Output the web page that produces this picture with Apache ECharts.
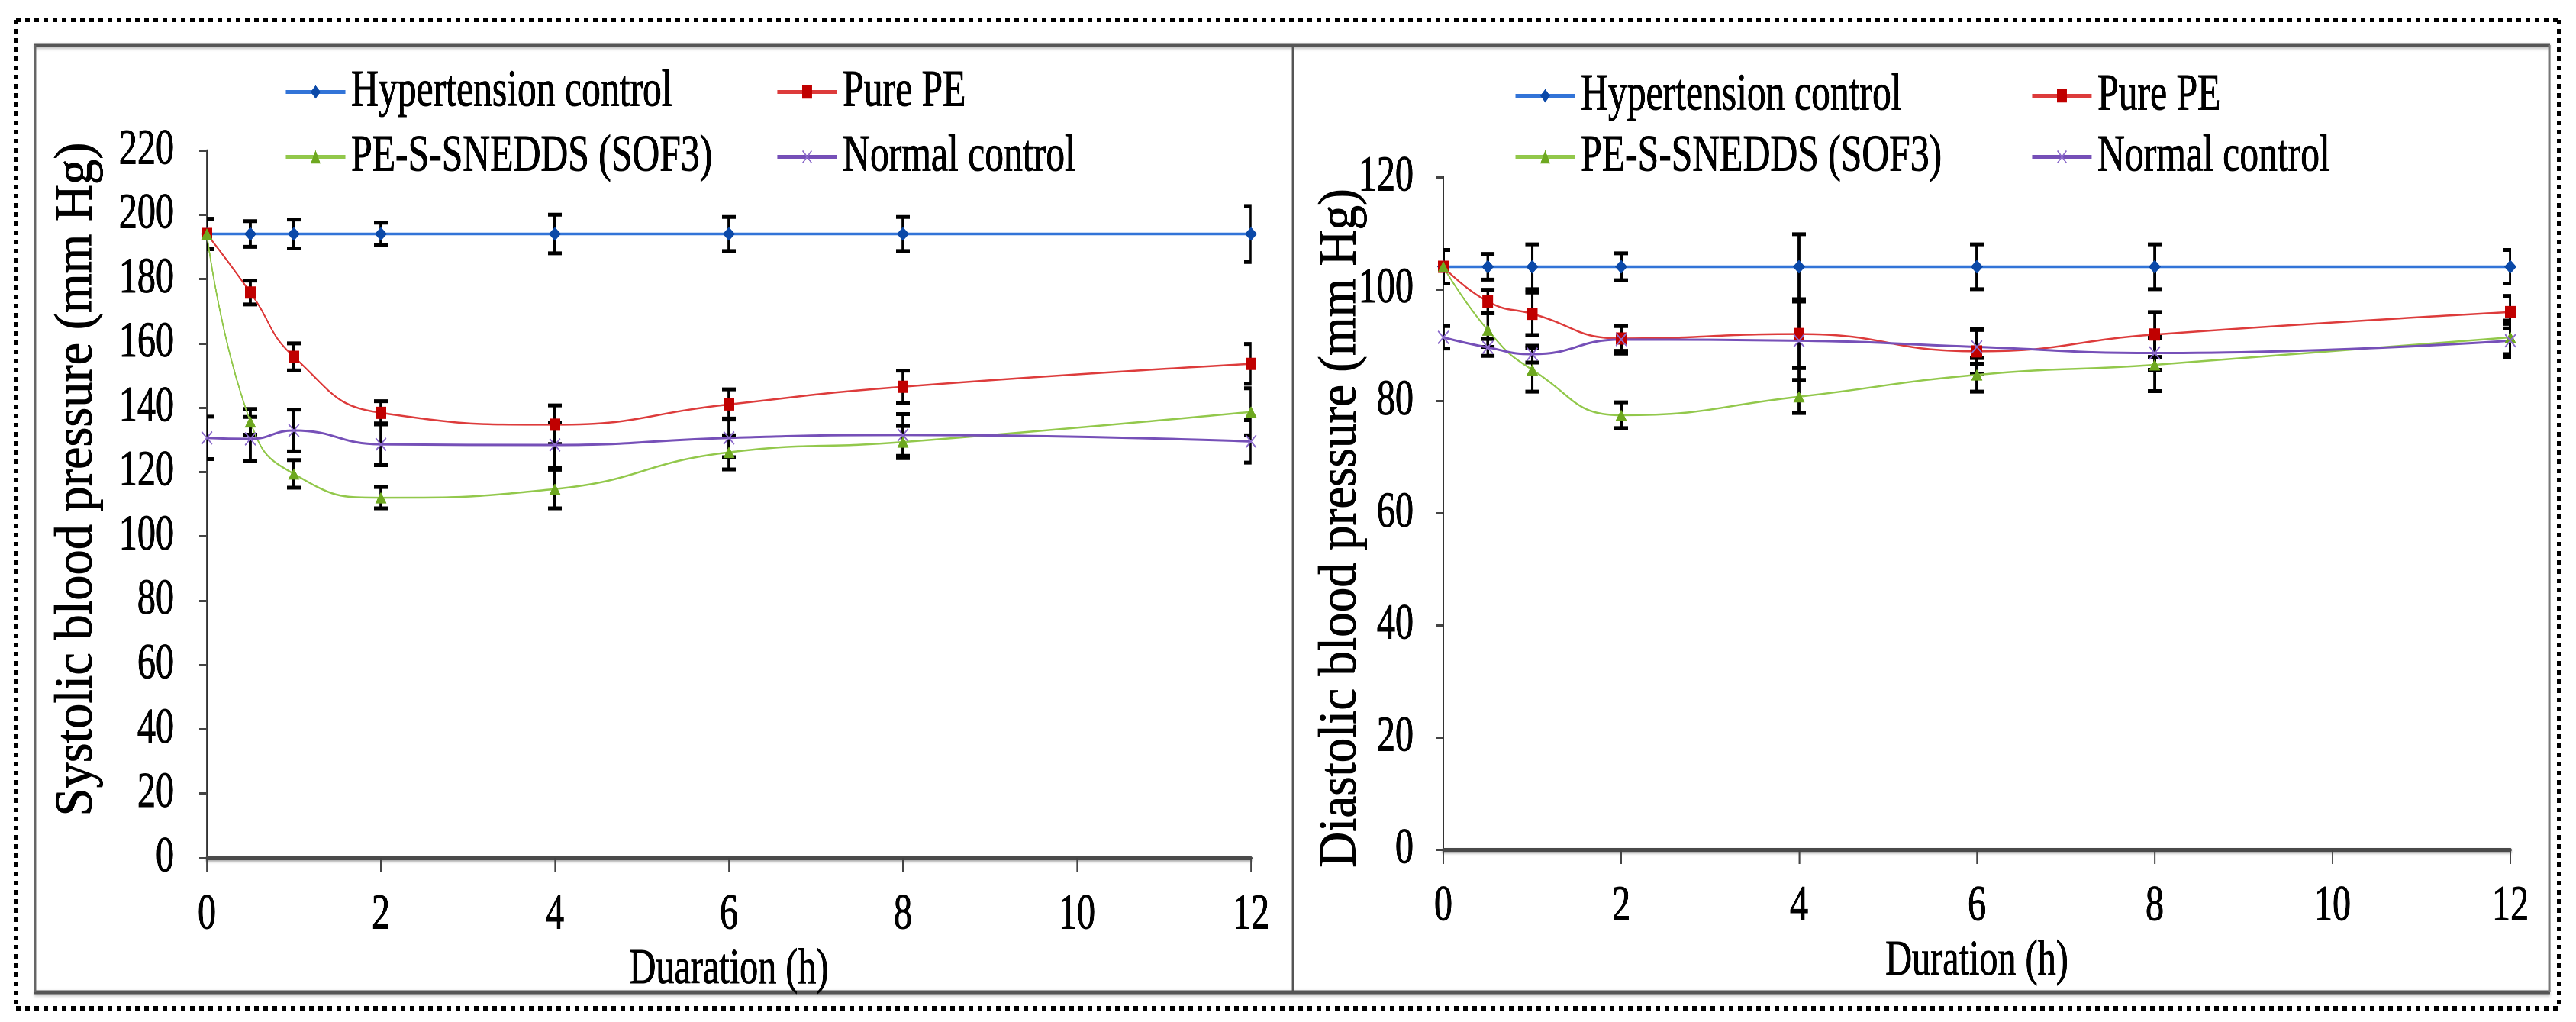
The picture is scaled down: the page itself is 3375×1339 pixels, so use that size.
<!DOCTYPE html>
<html>
<head>
<meta charset="utf-8">
<script src="https://cdn.jsdelivr.net/npm/echarts@6/dist/echarts.min.js"></script>
<style>
html, body { margin: 0; padding: 0; background: #fff; overflow: hidden; width: 3375px; height: 1339px; }
#chart { position: absolute; left: 0; top: 0; height: 1339px; transform-origin: 0 0; }
</style>
</head>
<body>
<div id="chart"></div>
<script>
// ---------------- data ----------------
const durations = [0, 0.5, 1, 2, 4, 6, 8, 12];
const seriesNames = ['Hypertension control', 'Pure PE', 'PE-S-SNEDDS (SOF3)', 'Normal control'];

// Systolic blood pressure (mm Hg)
const sysHypertension = [194, 194, 194, 194, 194, 194, 194, 194];
const sysHypertensionErr = [4.7, 4, 4.5, 3.5, 6, 5.3, 5.3, 8.7];
const sysPurePE = [194, 175.8, 155.8, 138.4, 134.7, 141, 146.5, 153.6];
const sysPurePEErr = [4.7, 3.7, 4.2, 3.6, 6, 4.7, 5, 6.2];
const sysSnedds = [194, 135.6, 119.4, 112, 114.7, 126.1, 129.3, 138.7];
const sysSneddsErr = [4.7, 4, 4.3, 3.3, 6, 5.3, 5, 7.3];
const sysNormal = [130.6, 130.3, 132.9, 128.6, 128.4, 130.6, 131.5, 129.5];
const sysNormalErr = [6.6, 6.8, 6.5, 6.5, 7, 6, 6.5, 6.6];

// Diastolic blood pressure (mm Hg)
const diaHypertension = [104, 104, 104, 104, 104, 104, 104, 104];
const diaHypertensionErr = [3, 2.3, 4, 2.4, 5.8, 4, 4, 3];
const diaPurePE = [104, 97.8, 95.6, 91.2, 92, 88.9, 91.9, 95.9];
const diaPurePEErr = [3, 2.1, 3.8, 2.2, 6.1, 4, 4, 2.9];
const diaSnedds = [104, 92.7, 85.6, 77.5, 80.8, 84.7, 86.5, 91.4];
const diaSneddsErr = [3, 3, 3.9, 2.3, 2.9, 3, 4.7, 3];
const diaNormal = [91.4, 89.6, 88.4, 91, 90.8, 89.7, 88.6, 90.8];
const diaNormalErr = [2, 1.5, 1.5, 2.5, 7, 3, 3, 3];

const sysTicks = { min: 0, max: 220, interval: 20 };
const diaTicks = { min: 0, max: 120, interval: 20 };
const xTicks = { min: 0, max: 12, interval: 2 };
const xTitles = ['Duaration (h)', 'Duration (h)'];
const yTitles = ['Systolic blood pressure (mm Hg)', 'Diastolic blood pressure (mm Hg)'];

// ---------------- layout helpers ----------------
const W = 3375, H = 1339;
const S = 0.73;               // horizontal condensing of the whole figure
const px = x => x / S;        // screen x -> pre-transform x
const FONT = 'Liberation Serif';
const TB = { textBorderColor: '#000', textBorderWidth: 1 };

const el = document.getElementById('chart');
el.style.width = (W / S) + 'px';
el.style.transform = 'scaleX(' + S + ')';

const styles = [
  { symbol: 'diamond', size: [px(16), 18], marker: '#0B49A8', line: '#3274D8', lw: 3.5 },
  { symbol: 'rect', size: [px(14), 16], marker: '#C00000', line: '#DD3B3B', lw: 2.5 },
  { symbol: 'triangle', size: [px(15), 15], marker: '#6EA820', line: '#92C84B', lw: 2.5 },
  { symbol: 'path://M0,0.8L0.8,0L5,4.2L9.2,0L10,0.8L5.8,5L10,9.2L9.2,10L5,5.8L0.8,10L0,9.2L4.2,5Z',
    size: [px(15), 18], marker: '#8C6BCB', line: '#7650B8', lw: 3 }
];

function lineSeries(k, gi, vals) {
  const st = styles[k];
  return {
    type: 'line', name: seriesNames[k], xAxisIndex: gi, yAxisIndex: gi,
    data: durations.map((t, i) => [t, vals[i]]),
    smooth: 0.5, symbol: st.symbol, symbolSize: st.size, showAllSymbol: true,
    itemStyle: { color: st.marker },
    lineStyle: { color: st.line, width: st.lw },
    z: 3, animation: false
  };
}

function errSeries(k, gi, vals, errs) {
  return {
    type: 'custom', name: 'err-' + gi + '-' + k, xAxisIndex: gi, yAxisIndex: gi,
    data: durations.map((t, i) => [t, vals[i], errs[i]]),
    encode: { x: 0, y: 1 }, clip: true, z: 2, animation: false,
    renderItem: function (params, api) {
      const t = api.value(0), v = api.value(1), e = api.value(2);
      const a = api.coord([t, v + e]), b = api.coord([t, v - e]);
      const hw = px(9);
      return {
        type: 'group', children: [
          { type: 'line', shape: { x1: a[0], y1: a[1], x2: b[0], y2: b[1] }, style: { stroke: '#000', lineWidth: px(3.5) } },
          { type: 'line', shape: { x1: a[0] - hw, y1: a[1], x2: a[0] + hw, y2: a[1] }, style: { stroke: '#000', lineWidth: 5 } },
          { type: 'line', shape: { x1: b[0] - hw, y1: b[1], x2: b[0] + hw, y2: b[1] }, style: { stroke: '#000', lineWidth: 5 } }
        ]
      };
    }
  };
}

function legendItem(k, xScreen, yCenter) {
  return {
    data: [seriesNames[k]], left: px(xScreen), top: yCenter - 34,
    itemWidth: px(78), itemHeight: 22, itemGap: 0, selectedMode: false,
    lineStyle: { width: 5 },
    textStyle: Object.assign({ fontFamily: FONT, fontSize: 68, lineHeight: 68, color: '#000', padding: [0, 0, 0, px(4)] }, TB)
  };
}

function xAxisCfg(gi, name) {
  return {
    gridIndex: gi, type: 'value', min: xTicks.min, max: xTicks.max, interval: xTicks.interval,
    axisLine: { show: true, onZero: false, lineStyle: { color: '#4a4a4a', width: 5, shadowColor: 'rgba(0,0,0,0.35)', shadowBlur: 3, shadowOffsetY: 2 } },
    axisTick: { show: true, inside: false, length: 19, lineStyle: { color: '#444', width: px(2) } },
    axisLabel: Object.assign({ margin: 42, fontSize: 66, fontFamily: FONT, color: '#000' }, TB),
    splitLine: { show: false },
    name: name, nameLocation: 'middle', nameGap: 98,
    nameTextStyle: Object.assign({ fontSize: 66, fontFamily: FONT, color: '#000' }, TB)
  };
}

function yAxisCfg(gi, ticks, margin) {
  return {
    gridIndex: gi, type: 'value', min: ticks.min, max: ticks.max, interval: ticks.interval,
    axisLine: { show: true, lineStyle: { color: '#333', width: px(2) } },
    axisTick: { show: true, inside: false, length: px(10), lineStyle: { color: '#444', width: 3 } },
    axisLabel: Object.assign({ margin: px(margin), fontSize: 66, fontFamily: FONT, color: '#000' }, TB),
    splitLine: { show: false }
  };
}

function hLine(x1, x2, y, w, color, dash, shadow) {
  const style = { stroke: color, lineWidth: w };
  if (dash) style.lineDash = dash;
  if (shadow) { style.shadowColor = 'rgba(0,0,0,0.3)'; style.shadowBlur = 4; style.shadowOffsetY = 2; }
  return { type: 'line', silent: true, shape: { x1: px(x1), y1: y, x2: px(x2), y2: y }, style };
}
function vLine(x, y1, y2, w, color, dash) {
  const style = { stroke: color, lineWidth: px(w) };
  if (dash) style.lineDash = dash;
  return { type: 'line', silent: true, shape: { x1: px(x), y1: y1, x2: px(x), y2: y2 }, style };
}

const graphics = [
  // outer dotted frame
  hLine(21, 3353, 26, 6, '#000', [px(6), px(6)]),
  hLine(21, 3353, 1321, 6, '#000', [px(6), px(6)]),
  vLine(21, 26, 1321, 6, '#000', [6, 6]),
  vLine(3353, 26, 1321, 6, '#000', [6, 6]),
  // panel boxes
  hLine(45, 3341, 59, 5, '#555', null, true),
  hLine(45, 3341, 1300, 5, '#555', null, true),
  vLine(46, 59, 1300, 3, '#666'),
  vLine(1694, 59, 1300, 3, '#555'),
  vLine(3340, 59, 1300, 3, '#777'),
  // y axis titles
  { type: 'text', silent: true, x: px(101), y: 628, rotation: Math.PI / 2, scaleX: 0.95, scaleY: 1 / S,
    style: { text: yTitles[0], font: '70px Liberation Serif', fill: '#000', stroke: '#000', lineWidth: 0.8, textAlign: 'center', textVerticalAlign: 'middle' } },
  { type: 'text', silent: true, x: px(1757), y: 692, rotation: Math.PI / 2, scaleX: 0.93, scaleY: 1 / S,
    style: { text: yTitles[1], font: '70px Liberation Serif', fill: '#000', stroke: '#000', lineWidth: 0.8, textAlign: 'center', textVerticalAlign: 'middle' } }
];

const sysVals = [sysHypertension, sysPurePE, sysSnedds, sysNormal];
const sysErrs = [sysHypertensionErr, sysPurePEErr, sysSneddsErr, sysNormalErr];
const diaVals = [diaHypertension, diaPurePE, diaSnedds, diaNormal];
const diaErrs = [diaHypertensionErr, diaPurePEErr, diaSneddsErr, diaNormalErr];

const series = [];
for (let k = 0; k < 4; k++) series.push(lineSeries(k, 0, sysVals[k]));
for (let k = 0; k < 4; k++) series.push(lineSeries(k, 1, diaVals[k]));
for (let k = 0; k < 4; k++) series.push(errSeries(k, 0, sysVals[k], sysErrs[k]));
for (let k = 0; k < 4; k++) series.push(errSeries(k, 1, diaVals[k], diaErrs[k]));

const option = {
  backgroundColor: '#fff',
  animation: false,
  textStyle: { fontFamily: FONT },
  grid: [
    { left: px(271), top: 197, width: px(1639 - 271), height: 1124 - 197, containLabel: false },
    { left: px(1891), top: 232, width: px(3289 - 1891), height: 1113 - 232, containLabel: false }
  ],
  xAxis: [xAxisCfg(0, xTitles[0]), xAxisCfg(1, xTitles[1])],
  yAxis: [yAxisCfg(0, sysTicks, 43), yAxisCfg(1, diaTicks, 39)],
  legend: [
    legendItem(0, 369, 115), legendItem(1, 1013, 115),
    legendItem(2, 369, 200), legendItem(3, 1013, 200),
    legendItem(0, 1980, 120), legendItem(1, 2657, 120),
    legendItem(2, 1980, 200), legendItem(3, 2657, 200)
  ],
  graphic: graphics,
  series: series
};

const chart = echarts.init(el, null, { renderer: 'canvas', devicePixelRatio: 2 });
chart.setOption(option);
</script>
</body>
</html>
